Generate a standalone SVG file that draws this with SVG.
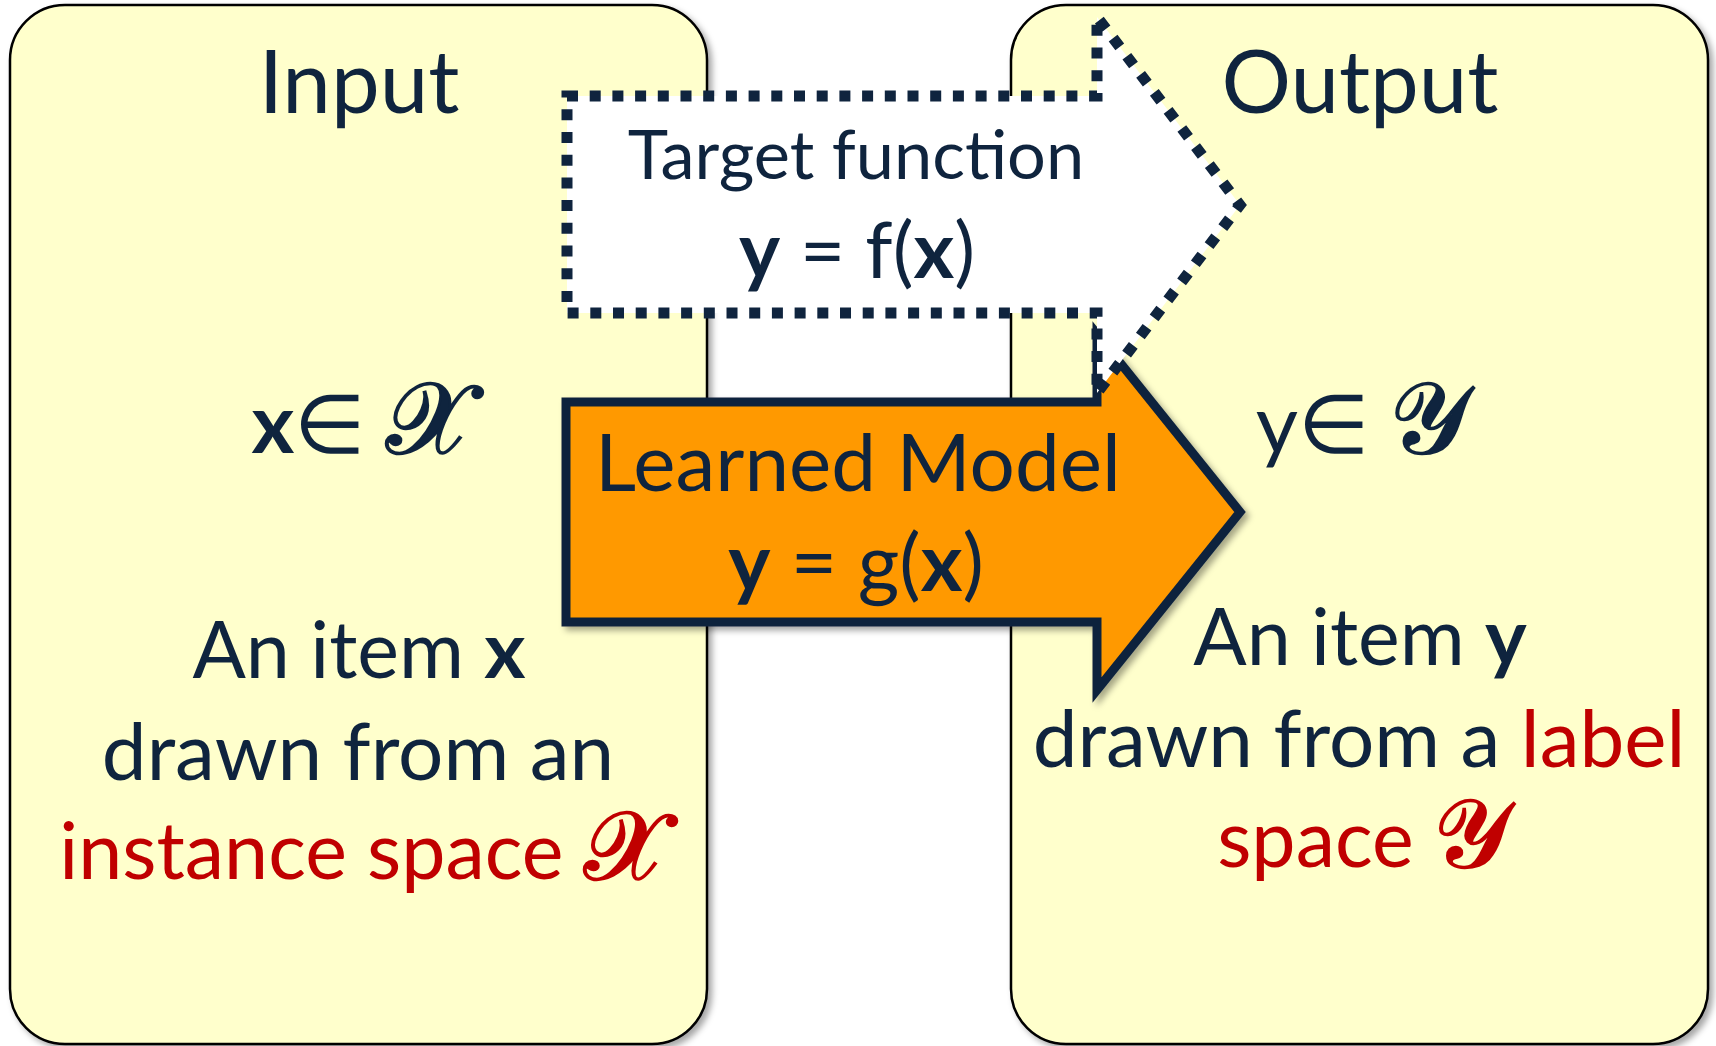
<svg xmlns="http://www.w3.org/2000/svg" width="1716" height="1046" viewBox="0 0 1716 1046">
  <defs>
    <filter id="shadow" x="-10%" y="-10%" width="130%" height="130%">
      <feDropShadow dx="4" dy="4" stdDeviation="3" flood-color="#000" flood-opacity="0.35"/>
    </filter>
    <style>
      .panel { fill: #FFFFCC; stroke: #000; stroke-width: 2.5; }
      .txt { font-family: Lato, "Liberation Sans", sans-serif; fill: #0F243E; text-anchor: middle; }
      .red { fill: #C00000; }
      .b { font-weight: bold; }
      .script { font-family: "DejaVu Serif", "DejaVu Sans", serif; stroke-width: 2.5; }
      .script.navy { stroke: #0F243E; }
      .script.crimson { stroke: #C00000; }
      .model { fill: #FF9900; stroke: #0F243E; stroke-width: 9; stroke-linejoin: miter; }
      .target { fill: #FFFFFF; stroke: #0F243E; stroke-width: 11; stroke-dasharray: 11 11.7; stroke-linejoin: miter; }
    </style>
  </defs>

  <rect width="1716" height="1046" fill="#FFFFFF"/>

  <!-- Input panel -->
  <g id="input">
    <rect class="panel" x="10" y="5" width="697" height="1039" rx="55" ry="55" filter="url(#shadow)"/>
    <text class="txt" x="359" y="113" font-size="87">Input</text>
    <text class="txt" x="362" y="453" font-size="82"><tspan class="b">x</tspan>∈ <tspan class="script navy" font-size="100">𝒳</tspan></text>
    <text class="txt" x="359" y="678" font-size="79">An item <tspan class="b">x</tspan></text>
    <text class="txt" x="358" y="780" font-size="80">drawn from an</text>
    <text class="txt red" x="363" y="879" font-size="79">instance space <tspan class="script crimson" font-size="96">𝒳</tspan></text>
  </g>

  <!-- Output panel -->
  <g id="output">
    <rect class="panel" x="1011" y="5" width="697" height="1039" rx="55" ry="55" filter="url(#shadow)"/>
    <text class="txt" x="1360" y="113" font-size="87">Output</text>
    <text class="txt" x="1362" y="453" font-size="82">y∈ <tspan class="script navy" font-size="100">𝒴</tspan></text>
    <text class="txt" x="1360" y="665" font-size="79">An item <tspan class="b">y</tspan></text>
    <text class="txt" x="1359" y="767" font-size="80">drawn from a <tspan class="red">label</tspan></text>
    <text class="txt red" x="1363" y="867" font-size="79">space <tspan class="script crimson" font-size="96">𝒴</tspan></text>
  </g>

  <g id="connectors">
    <!-- learned mapping g, drawn first so the target arrow overlaps its head -->
    <g id="learned-model">
      <path class="model" d="M566,402 H1097 V334 L1240,512 L1097,690 V622 H566 Z" filter="url(#shadow)"/>
      <text class="txt" x="858" y="491" font-size="80">Learned Model</text>
      <text class="txt" x="856" y="591" font-size="80"><tspan class="b">y</tspan> = g(<tspan class="b">x</tspan>)</text>
    </g>
    <!-- unknown target mapping f, dotted outline -->
    <g id="target-function">
      <path class="target" d="M567,96 H1097 V17 L1240,205 L1097,393 V313 H567 Z"/>
      <text class="txt" x="856" y="179" font-size="68.5">Target function</text>
      <text class="txt" x="857" y="278" font-size="78"><tspan class="b">y</tspan> = f(<tspan class="b">x</tspan>)</text>
    </g>
  </g>
</svg>
